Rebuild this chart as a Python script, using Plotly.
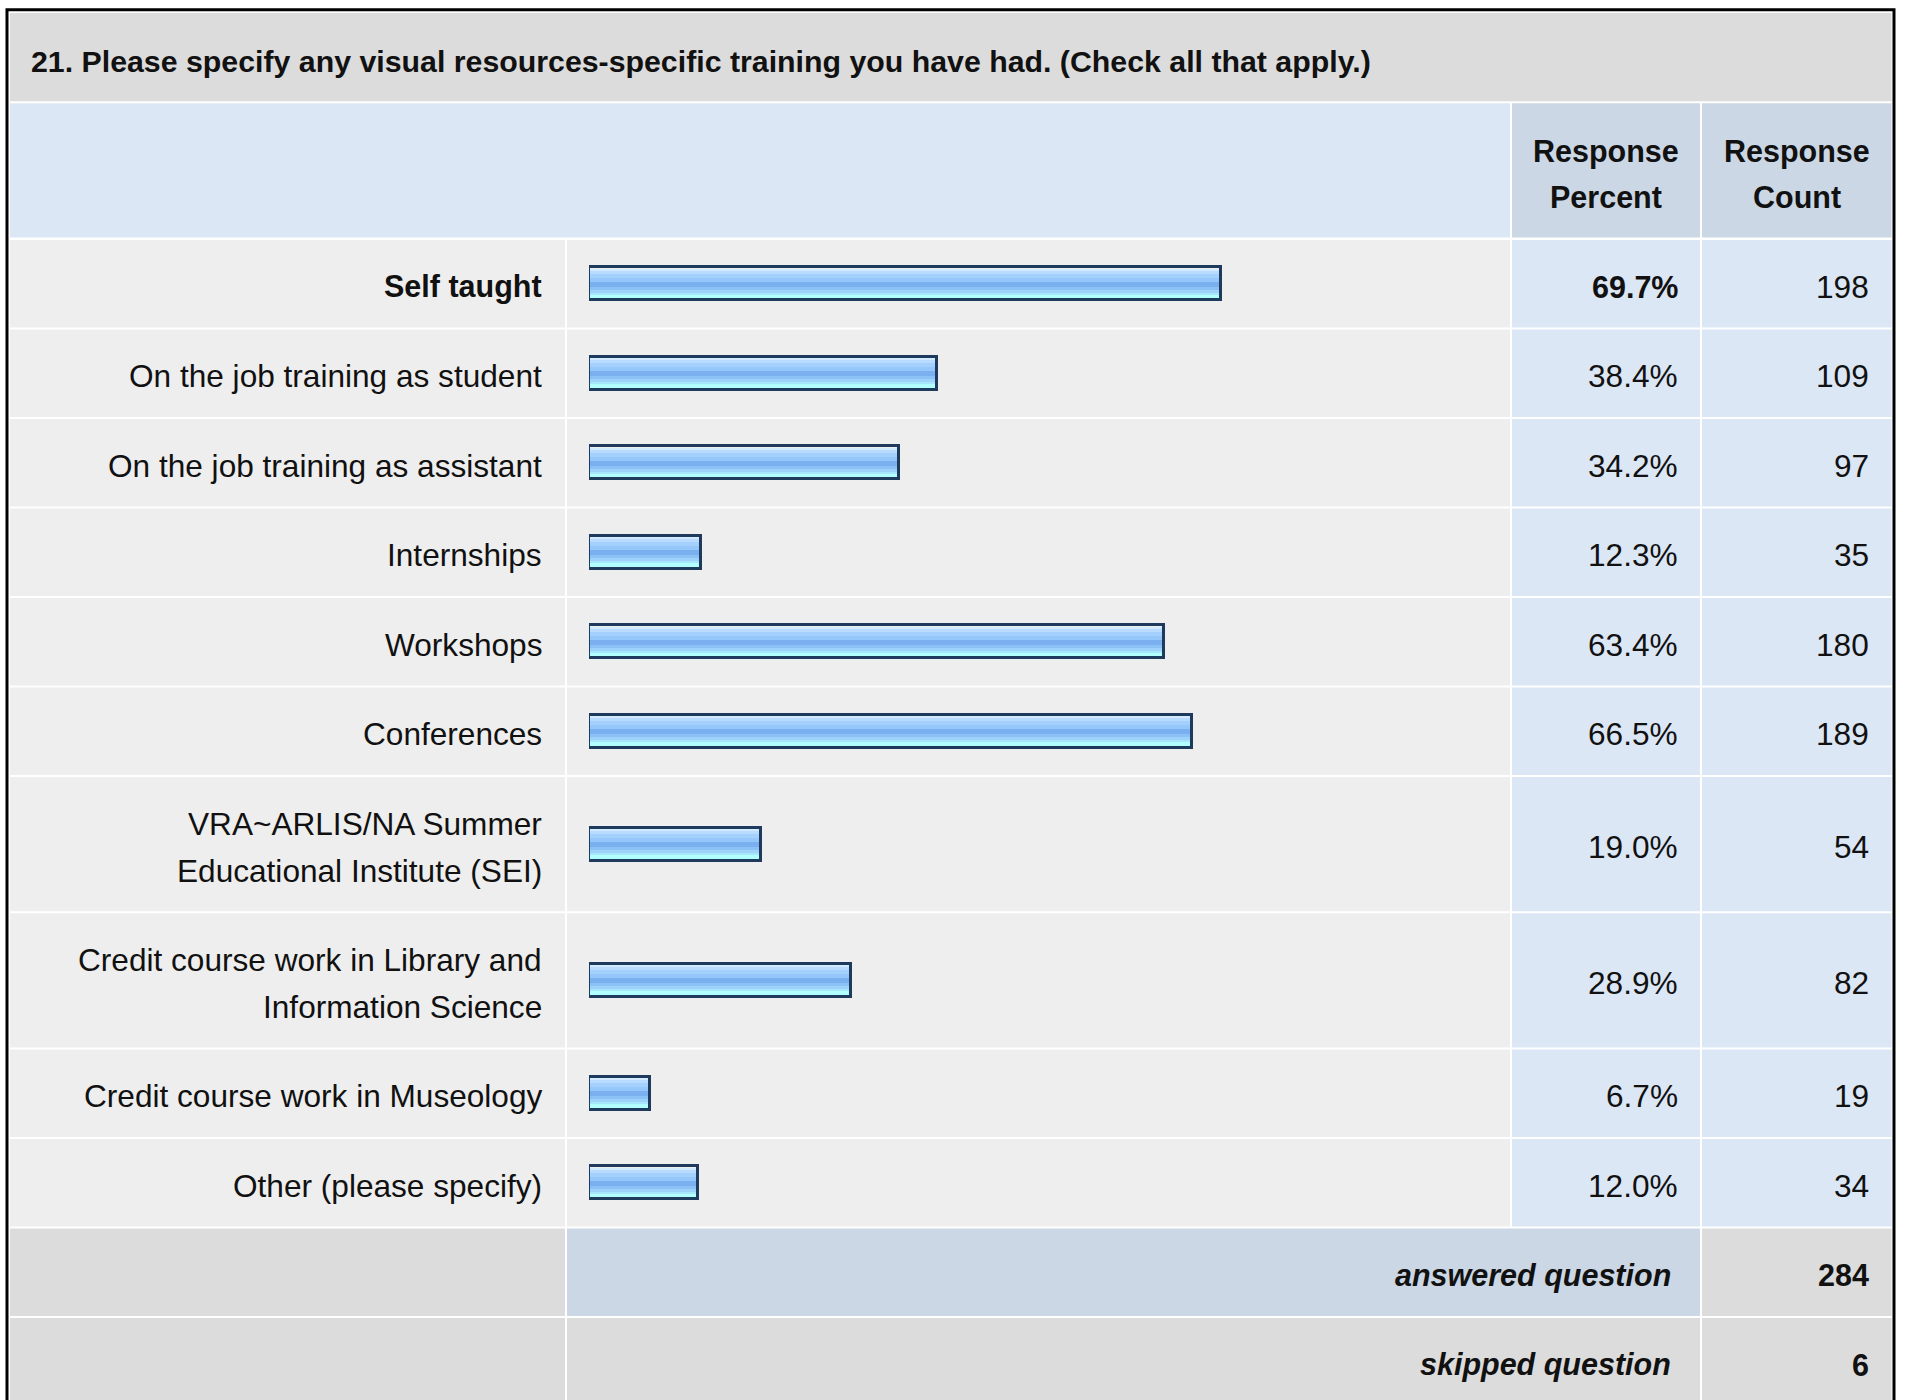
import plotly.graph_objects as go

# ---------------- data ----------------
title_text = "21. Please specify any visual resources-specific training you have had. (Check all that apply.)"
col_headers = [["Response", "Percent"], ["Response", "Count"]]
categories = [
    "Self taught",
    "On the job training as student",
    "On the job training as assistant",
    "Internships",
    "Workshops",
    "Conferences",
    "VRA~ARLIS/NA Summer\nEducational Institute (SEI)",
    "Credit course work in Library and\nInformation Science",
    "Credit course work in Museology",
    "Other (please specify)",
]
percents = [69.7, 38.4, 34.2, 12.3, 63.4, 66.5, 19.0, 28.9, 6.7, 12.0]
counts = [198, 109, 97, 35, 180, 189, 54, 82, 19, 34]
footer_labels = ["answered question", "skipped question"]
footer_values = [284, 6]

# ---------------- layout constants ----------------
W, H = 1907, 1400
FONT = "Arial, 'Liberation Sans', Helvetica, sans-serif"
TXT = "#111111"
FS_REG, FS_BOLD = 31.6, 30.5
C_TITLE = "#DCDCDC"
C_HEAD_L = "#DCE7F5"
C_HEAD_R = "#CBD7E5"
C_ROW = "#EEEEEE"
C_ROW_R = "#DCE7F5"
C_GREY = "#DCDCDC"

XA0, XA1 = 10, 565      # label column
XB0, XB1 = 567, 1510    # bar column
XC0, XC1 = 1512, 1700   # percent column
XD0, XD1 = 1702, 1891.5 # count column
BAR_X0, BAR_PX100 = 589, 907  # bar area: 0% pixel and pixel length of 100%

SINGLE_H, LINE_EXTRA = 89.5, 46.8
GAP = 2
ROW_TOP0 = 240


def px(x):
    return x / W


def py(y):
    return 1 - y / H


shapes = []


def rect(x0, y0, x1, y1, color):
    shapes.append(dict(type="rect", xref="paper", yref="paper",
                       x0=px(x0), x1=px(x1), y0=py(y1), y1=py(y0),
                       fillcolor=color, line=dict(width=0), layer="below"))


annotations = []


def text(x, y, s, size=FS_REG, bold=False, italic=False, anchor="right"):
    if bold:
        s = "<b>" + s + "</b>"
    if italic:
        s = "<i>" + s + "</i>"
    annotations.append(dict(xref="paper", yref="paper", x=px(x), y=py(y),
                            text=s, showarrow=False, xanchor=anchor, yanchor="middle",
                            font=dict(family=FONT, size=size, color=TXT),
                            borderpad=0, borderwidth=0))


# title
rect(XA0, 13, XD1, 101.3, C_TITLE)
text(31, 61.5, title_text, size=30.3, bold=True, anchor="left")

# header
rect(XA0, 103.3, XB1, 237.5, C_HEAD_L)
rect(XC0, 103.3, XC1, 237.5, C_HEAD_R)
rect(XD0, 103.3, XD1, 237.5, C_HEAD_R)
for (l1, l2), xc in zip(col_headers, [(XC0 + XC1) / 2, (XD0 + XD1) / 2]):
    text(xc, 151, l1, size=FS_BOLD, bold=True, anchor="center")
    text(xc, 197.5, l2, size=FS_BOLD, bold=True, anchor="center")

# data rows
max_p = max(percents)
centers = []
top = ROW_TOP0
for cat, p, c in zip(categories, percents, counts):
    lines = cat.split("\n")
    h = SINGLE_H + LINE_EXTRA * (len(lines) - 1)
    bot = top + h - GAP
    rect(XA0, top, XA1, bot, C_ROW)
    rect(XB0, top, XB1, bot, C_ROW)
    rect(XC0, top, XC1, bot, C_ROW_R)
    rect(XD0, top, XD1, bot, C_ROW_R)
    cy = top + (h - GAP) / 2
    centers.append(cy)
    is_max = p == max_p
    n = len(lines)
    fs = FS_BOLD if is_max else FS_REG
    for i, ln in enumerate(lines):
        ty = cy + 3 + (i - (n - 1) / 2) * LINE_EXTRA
        text(542, ty, ln, size=fs, bold=is_max)
    text(1678, cy + 3, f"{p:.1f}%", size=fs, bold=is_max)
    text(1869, cy + 3, f"{c}", size=FS_REG)
    top += h

# footer rows
for i, (lab, val) in enumerate(zip(footer_labels, footer_values)):
    ftop = top
    fbot = ftop + SINGLE_H - GAP if i == 0 else 1420
    rect(XA0, ftop, XA1, fbot, C_GREY)
    rect(XB0, ftop, XC1, fbot, C_HEAD_R if i == 0 else C_GREY)
    rect(XD0, ftop, XD1, fbot, C_GREY)
    fcy = ftop + (SINGLE_H - GAP) / 2
    text(1671, fcy + 3, lab, size=FS_BOLD, bold=True, italic=True)
    text(1869, fcy + 3, str(val), size=FS_BOLD, bold=True)
    top += SINGLE_H

# outer frame
shapes.append(dict(type="rect", xref="paper", yref="paper",
                   x0=px(7), x1=px(1894), y0=py(1430), y1=py(9.7),
                   fillcolor="rgba(0,0,0,0)", line=dict(color="#000000", width=3),
                   layer="below"))

# ---------------- bars (striped gradient look) ----------------
stripes = [  # (offset from bar centre in px, thickness px, colour)
    (-15, 2, "#D2EAFF"),
    (-13, 3, "#B8DBFF"),
    (-10, 4, "#A3D0FD"),
    (-6, 4, "#96C7FA"),
    (-2, 5, "#7AB0F0"),
    (3, 3, "#8CC1F6"),
    (6, 3, "#9DD3FA"),
    (9, 2, "#A8E6FC"),
    (11, 4, "#B2FFFF"),
]

fig = go.Figure()
for off, th, col in stripes:
    fig.add_trace(go.Bar(x=percents, y=centers, orientation="h", base=0,
                         width=th, offset=off,
                         marker=dict(color=col, line=dict(width=0)),
                         hoverinfo="skip", showlegend=False))
fig.add_trace(go.Bar(x=percents, y=centers, orientation="h", base=0,
                     width=33, offset=-16.5,
                     marker=dict(color="rgba(0,0,0,0)", line=dict(color="#1E3A5C", width=3)),
                     hoverinfo="skip", showlegend=False))

fig.update_layout(
    width=W, height=H,
    margin=dict(l=0, r=0, t=0, b=0, pad=0),
    paper_bgcolor="#FFFFFF",
    plot_bgcolor="rgba(0,0,0,0)",
    barmode="overlay",
    bargap=0,
    xaxis=dict(domain=[px(BAR_X0), px(BAR_X0 + BAR_PX100)], range=[0, 100],
               visible=False, fixedrange=True),
    yaxis=dict(domain=[0, 1], range=[H, 0], visible=False, fixedrange=True),
    shapes=shapes,
    annotations=annotations,
    showlegend=False,
)

fig.write_html("out.html", config={"displayModeBar": False},
               post_script="document.body.style.margin='0';document.body.style.overflow='hidden';")
